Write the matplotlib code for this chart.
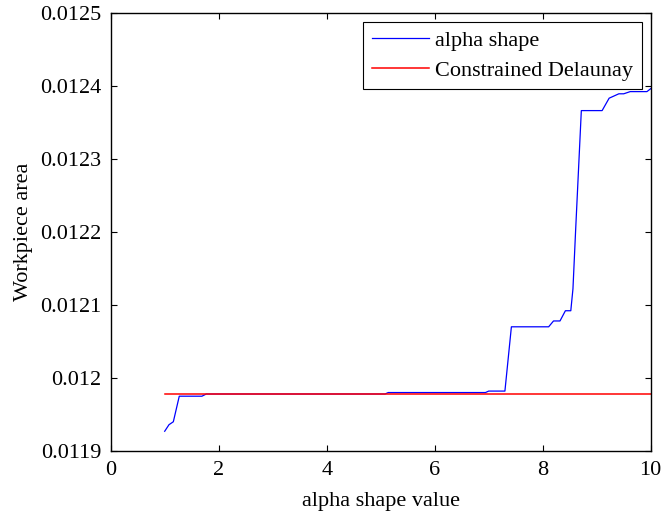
import matplotlib
matplotlib.use('Agg')
import matplotlib.pyplot as plt

# alpha shape area vs alpha value (breakpoints)
alpha_x = [1.0, 1.08, 1.16, 1.27, 1.69, 1.77, 5.08, 5.14, 6.94, 7.0, 7.30, 7.42,
           8.11, 8.20, 8.32, 8.42, 8.52, 8.56, 8.61, 8.715, 9.10, 9.23, 9.41,
           9.50, 9.62, 9.93, 10.0]
alpha_area = [0.011927, 0.011936, 0.011940, 0.011975, 0.011975, 0.011978, 0.011978,
              0.011980, 0.011980, 0.011982, 0.011982, 0.012070, 0.012070, 0.012078,
              0.012078, 0.012092, 0.012092, 0.012122, 0.012203, 0.012366, 0.012366,
              0.012383, 0.012389, 0.012389, 0.012392, 0.012392, 0.012396]
delaunay_x = [1.0, 10.0]
delaunay_area = [0.011978, 0.011978]

xticks = [0, 2, 4, 6, 8, 10]
yticks = [0.0119, 0.0120, 0.0121, 0.0122, 0.0123, 0.0124, 0.0125]
ytick_labels = ['0.0119', '0.012', '0.0121', '0.0122', '0.0123', '0.0124', '0.0125']

plt.rcParams['font.family'] = ['Liberation Serif', 'DejaVu Serif']
plt.rcParams['font.size'] = 16

fig = plt.figure(figsize=(6.64, 5.13), dpi=100)
ax = fig.add_axes([0.1667, 0.1209, 0.8133, 0.8543])

ax.plot(alpha_x, alpha_area, color='#0000ff', lw=0.9, label='alpha shape')
ax.plot(delaunay_x, delaunay_area, color='#ff0000', lw=1.1, label='Constrained Delaunay')

ax.set_xlim(0, 10)
ax.set_ylim(0.0119, 0.0125)
ax.set_xticks(xticks)
ax.set_xticklabels([str(t) for t in xticks])
ax.set_yticks(yticks)
ax.set_yticklabels(ytick_labels)
ax.tick_params(direction='in', top=True, right=True, length=4, width=0.8)
ax.tick_params(axis='x', pad=7)
ax.tick_params(axis='y', pad=6.5)
for s in ax.spines.values():
    s.set_linewidth(1.0)

ax.set_xlabel('alpha shape value', labelpad=9)
ax.set_ylabel('Workpiece area', labelpad=5)

ax.legend(loc='upper right', fancybox=False, framealpha=1, edgecolor='black',
          handlelength=2.6, handletextpad=0.25, borderpad=0.4, labelspacing=0.4,
          borderaxespad=0.4)
ax.get_legend().get_frame().set_linewidth(0.8)

fig.savefig('out.png', dpi=100)
